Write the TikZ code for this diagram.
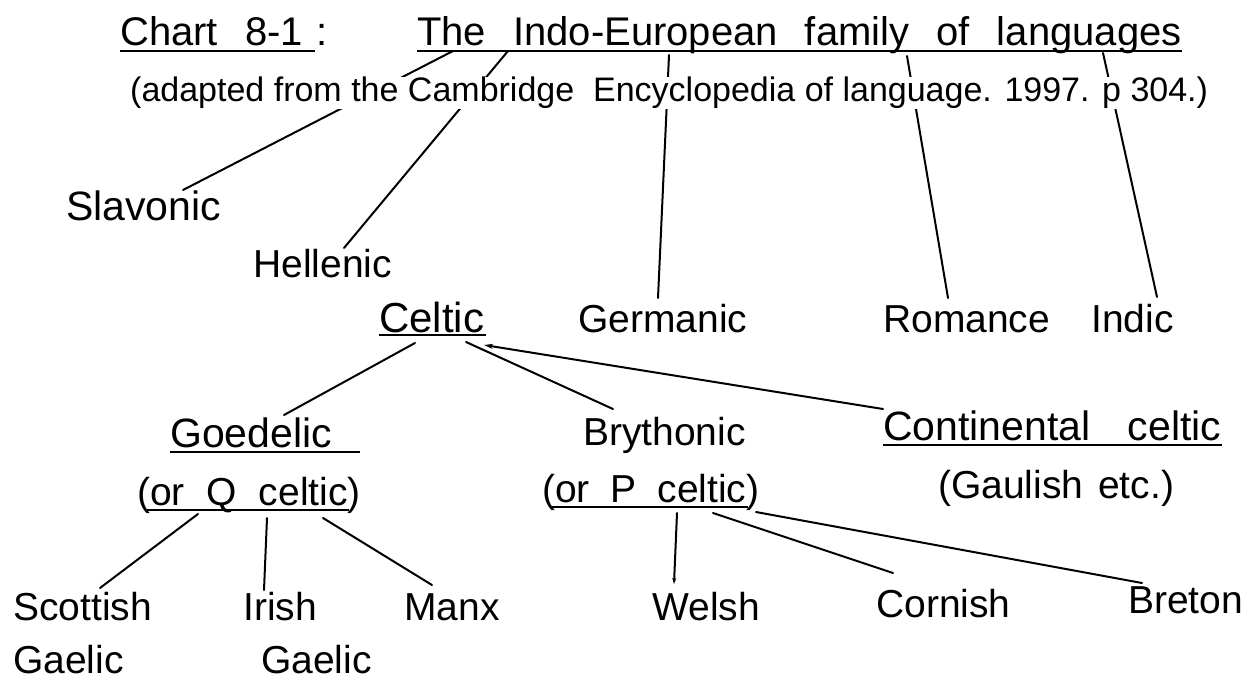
\documentclass[tikz,border=0pt]{standalone}
\usepackage{fontspec}
\setmainfont{Liberation Sans}
\usetikzlibrary{arrows.meta}
\newcommand{\gapw}[1]{\hspace{#1}\ }
\begin{document}
\begin{tikzpicture}[x=1pt,y=-1pt,
  lab/.style={anchor=base west,inner sep=0pt,font=\fontsize{39}{44}\selectfont},
  big/.style={font=\fontsize{41}{46}\selectfont},
  ttl/.style={anchor=base west,inner sep=0pt,font=\fontsize{40}{46}\selectfont},
  conn/.style={line width=2pt,line cap=round},
  ul/.style={line width=1.7pt}]
\fill[white] (0,0) rectangle (1249,682);
\useasboundingbox (0,0) rectangle (1249,682);
% title
\node[ttl] (chart) at (120,46) {Chart\gapw{16pt}8-1};
\node[ttl] (colon) at (316,46) {:};
\node[ttl] (title) at (417,46) {The\gapw{16pt}Indo-European\gapw{16pt}family\gapw{16pt}of\gapw{16pt}languages};
% first level
\node[lab,big] (slav) at (66,220) {Slavonic};
\node[lab] (hell) at (253,277) {Hellenic};
\node[lab,font=\fontsize{42}{46}\selectfont] (celt) at (379,332) {Celtic};
\node[lab] (germ) at (578,332) {Germanic};
\node[lab] (rom) at (883,332) {Romance};
\node[lab] (ind) at (1091,332) {Indic};
% second level
\node[lab,big] (goed) at (170,447) {Goedelic};
\node[lab] (bryt) at (583,445) {Brythonic};
\node[lab,big] (cont) at (883,440) {Continental\gapw{26pt}celtic};
\node[lab] (orq) at (137,505) {(or\gapw{11pt}Q\gapw{11pt}celtic)};
\node[lab] (orp) at (542,502) {(or\gapw{10pt}P\gapw{10pt}celtic)};
\node[lab] (gaul) at (938,498) {(Gaulish\gapw{4pt}etc.)};
% third level
\node[lab] (scot) at (13,620) {Scottish};
\node[lab] (scotg) at (13,673) {Gaelic};
\node[lab] (irish) at (243,620) {Irish};
\node[lab] (irishg) at (261,673) {Gaelic};
\node[lab] (manx) at (404,620) {Manx};
\node[lab] (welsh) at (652,620) {Welsh};
\node[lab] (corn) at (876,617) {Cornish};
\node[lab] (bret) at (1128,613) {Breton};
% underlines
\draw[ul] ([yshift=-5pt]chart.base west) -- ([xshift=12pt,yshift=-5pt]chart.base east);
\draw[ul] ([yshift=-5pt]title.base west) -- ([yshift=-5pt]title.base east);
\draw[ul] ([yshift=-3pt]celt.base west) -- ([xshift=2pt,yshift=-3pt]celt.base east);
\draw[ul] ([yshift=-5pt]goed.base west) -- ([xshift=28pt,yshift=-5pt]goed.base east);
\draw[ul] ([xshift=10pt,yshift=-5pt]orq.base west) -- ([xshift=-12pt,yshift=-5pt]orq.base east);
\draw[ul] ([xshift=10pt,yshift=-5pt]orp.base west) -- ([xshift=-12pt,yshift=-5pt]orp.base east);
\draw[ul] ([yshift=-5pt]cont.base west) -- ([yshift=-5pt]cont.base east);
% connector end points
\coordinate (tS) at (453,51);  \coordinate (eS) at (183,190);
\coordinate (tH) at (508,51);  \coordinate (eH) at (344,248);
\coordinate (tG) at (669,55);  \coordinate (eG) at (658,298);
\coordinate (tR) at (907,56);  \coordinate (eR) at (948,298);
\coordinate (tI) at (1103,53); \coordinate (eI) at (1157,297);
\coordinate (cL) at (415,343); \coordinate (eGo) at (284,415);
\coordinate (cR) at (466,342); \coordinate (eBr) at (613,409);
\coordinate (cA) at (484,345); \coordinate (eCo) at (883,409);
\coordinate (qS) at (198,514); \coordinate (eSc) at (100,588);
\coordinate (qI) at (267,518); \coordinate (eIr) at (264,590);
\coordinate (qM) at (323,518); \coordinate (eMa) at (432,585);
\coordinate (pW) at (677,513); \coordinate (eWe) at (674,584);
\coordinate (pC) at (713,513); \coordinate (eCn) at (893,573);
\coordinate (pB) at (756,512); \coordinate (eBt) at (1142,583);
% connectors
\draw[conn] (tS) -- (eS);
\draw[conn] (tH) -- (eH);
\draw[conn] (tG) -- (eG);
\draw[conn] (tR) -- (eR);
\draw[conn] (tI) -- (eI);
\draw[conn] (cL) -- (eGo);
\draw[conn] (cR) -- (eBr);
\draw[conn,-{Stealth[length=9pt,width=5pt]}] (eCo) -- (cA);
\draw[conn] (qS) -- (eSc);
\draw[conn] (qI) -- (eIr);
\draw[conn] (qM) -- (eMa);
\draw[conn,-{Stealth[length=6pt,width=4pt]}] (pW) -- (eWe);
\draw[conn] (pC) -- (eCn);
\draw[conn] (pB) -- (eBt);
% subtitle drawn over the connectors
\node[anchor=base west,inner sep=0pt,fill=white,font=\fontsize{34}{40}\selectfont] (sub) at (130,102)
  {(adapted from the Cambridge\ \ Encyclopedia of language. 1997. p 304.)};
\end{tikzpicture}
\end{document}
